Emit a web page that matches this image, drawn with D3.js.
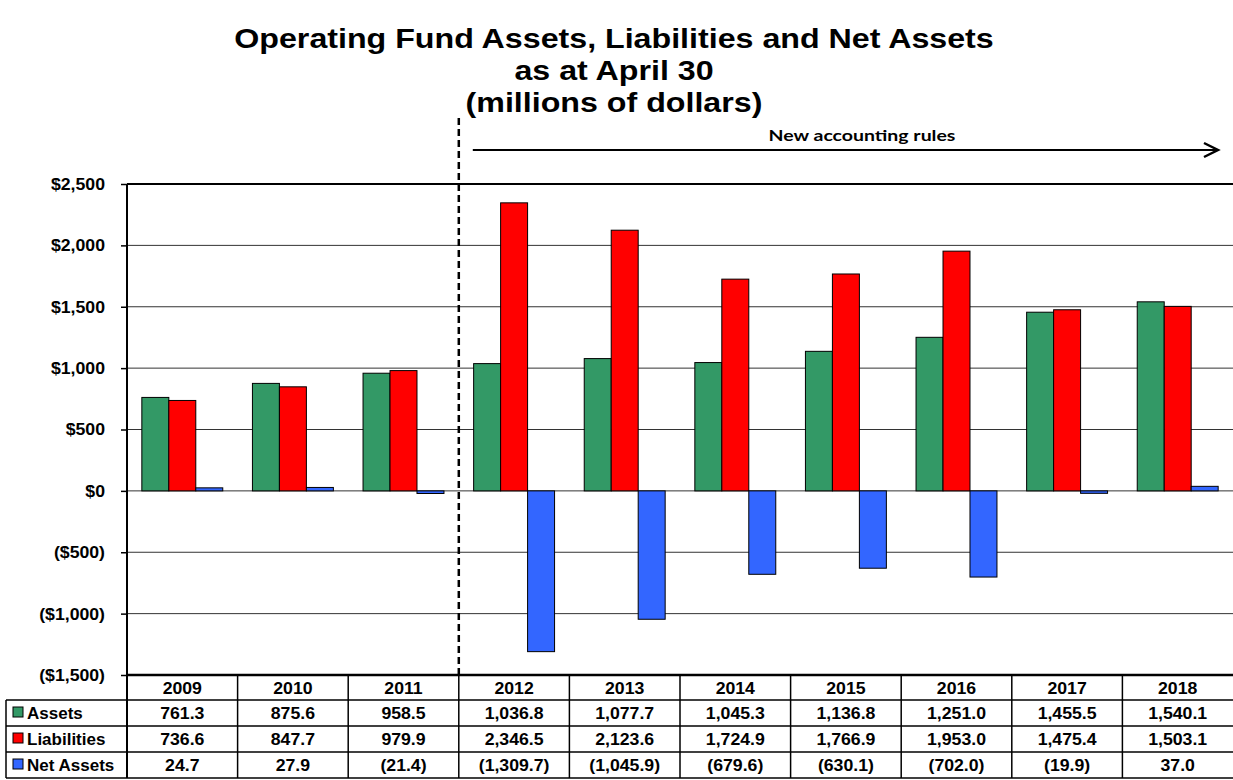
<!DOCTYPE html>
<html lang="en">
  <head>
    <meta charset="utf-8">
    <title>Operating Fund Assets, Liabilities and Net Assets</title>
    <script src="https://cdn.jsdelivr.net/npm/d3@7"></script>
    <style>
      body { margin: 0; background: #fff; }
      text { font-family: "Liberation Sans", Arial, sans-serif; font-weight: bold; fill: #000; }
      .bar { stroke: #000; stroke-width: 1; }
    </style>
  </head>
  <body>
    <script>
      var years = ["2009", "2010", "2011", "2012", "2013", "2014", "2015", "2016", "2017", "2018"];
      var assets = [761.3, 875.6, 958.5, 1036.8, 1077.7, 1045.3, 1136.8, 1251.0, 1455.5, 1540.1];
      var liabilities = [736.6, 847.7, 979.9, 2346.5, 2123.6, 1724.9, 1766.9, 1953.0, 1475.4, 1503.1];
      var netAssets = [24.7, 27.9, -21.4, -1309.7, -1045.9, -679.6, -630.1, -702.0, -19.9, 37.0];
      var seriesNames = ["Assets", "Liabilities", "Net Assets"];
      var seriesColors = ["#339966", "#FF0000", "#3366FF"];
      var yTicks = [-1500, -1000, -500, 0, 500, 1000, 1500, 2000, 2500];

      var w = 1233, h = 780;
      var plotLeft = 127, plotRight = 1233, plotTop = 184, plotBottom = 675;
      var rowY = [675, 700, 726, 752, 778];
      var sx = 1.04; // text in the original is a touch wider than Liberation Sans

      var series = [assets, liabilities, netAssets];

      var svg = d3.select("body").append("svg")
                  .attr("width", w)
                  .attr("height", h);

      var xScale = d3.scaleBand()
                     .domain(years)
                     .range([plotLeft, plotRight]);

      var inner = d3.scaleBand()
                    .domain(d3.range(3))
                    .range([0, xScale.bandwidth()])
                    .paddingOuter(0.55);

      var yScale = d3.scaleLinear()
                     .domain([-1500, 2500])
                     .range([plotBottom, plotTop]);

      var fmtTick = function (v) {
        var s = "$" + d3.format(",")(Math.abs(v));
        return v < 0 ? "(" + s + ")" : s;
      };
      var fmtVal = function (v) {
        var s = d3.format(",.1f")(Math.abs(v));
        return v < 0 ? "(" + s + ")" : s;
      };

      // place a (slightly stretched) text
      function label(g, x, y, str, size, anchor, scale) {
        return g.append("text")
                .attr("transform", "translate(" + x + "," + y + ") scale(" + (scale || sx) + ",1)")
                .attr("text-anchor", anchor || "middle")
                .style("font-size", size + "px")
                .text(str);
      }

      // title
      var titleLines = ["Operating Fund Assets, Liabilities and Net Assets", "as at April 30", "(millions of dollars)"];
      titleLines.forEach(function (t, i) {
        label(svg, 614, 48 + i * 32, t, 28, "middle", 1.15);
      });

      // gridlines
      svg.append("g")
         .selectAll("line")
         .data(yTicks.filter(function (t) { return t > -1500; }))
         .join("line")
         .attr("x1", plotLeft)
         .attr("x2", plotRight)
         .attr("y1", function (d) { return yScale(d); })
         .attr("y2", function (d) { return yScale(d); })
         .style("stroke", function (d) { return d === 2500 ? "#000" : "#333"; })
         .style("stroke-width", function (d) { return d === 2500 ? 2 : 1; });

      // y axis
      var yAxis = d3.axisLeft(yScale)
                    .tickValues(yTicks)
                    .tickSize(6)
                    .tickPadding(0)
                    .tickFormat(fmtTick);

      var gy = svg.append("g")
                  .attr("transform", "translate(" + plotLeft + ",0)")
                  .call(yAxis);
      gy.select(".domain").remove();
      gy.selectAll(".tick line").attr("stroke", "#000").attr("stroke-width", 1.5);
      gy.selectAll(".tick text")
        .attr("x", -22 / sx)
        .attr("transform", "scale(" + sx + ",1)")
        .style("font-family", "'Liberation Sans', Arial, sans-serif")
        .style("font-weight", "bold")
        .style("font-size", "17px");

      svg.append("line")
         .attr("x1", plotLeft).attr("x2", plotLeft)
         .attr("y1", plotTop).attr("y2", rowY[4])
         .attr("stroke", "#000").attr("stroke-width", 2);

      // bars
      series.forEach(function (vals, si) {
        svg.append("g").selectAll("rect")
           .data(vals)
           .join("rect")
           .attr("class", "bar")
           .attr("x", function (d, i) { return xScale(years[i]) + inner(si); })
           .attr("width", inner.bandwidth())
           .attr("y", function (d) { return yScale(Math.max(0, d)); })
           .attr("height", function (d) { return Math.abs(yScale(d) - yScale(0)); })
           .attr("fill", seriesColors[si]);
      });

      // dashed separator
      var sepX = xScale("2012");
      svg.append("line")
         .attr("x1", sepX).attr("x2", sepX)
         .attr("y1", 118).attr("y2", plotBottom)
         .attr("stroke", "#000")
         .attr("stroke-width", 2.5)
         .attr("stroke-dasharray", "7,4");

      // arrow: new accounting rules
      svg.append("line")
         .attr("x1", sepX + 14).attr("x2", 1218)
         .attr("y1", 150).attr("y2", 150)
         .attr("stroke", "#000").attr("stroke-width", 2);
      svg.append("path")
         .attr("d", "M1204,143 L1218,150 L1204,157")
         .attr("fill", "none").attr("stroke", "#000").attr("stroke-width", 2.5);
      label(svg, 862, 141, "New accounting rules", 15, "middle", 1.3)
         .style("font-family", "Lato, 'Open Sans', sans-serif");

      // data table
      var table = svg.append("g");
      table.append("line")
           .attr("x1", plotLeft).attr("x2", plotRight)
           .attr("y1", rowY[0]).attr("y2", rowY[0])
           .attr("stroke", "#000").attr("stroke-width", 2.5);
      for (var r = 1; r < rowY.length; r++) {
        table.append("line")
             .attr("x1", 6).attr("x2", plotRight)
             .attr("y1", rowY[r]).attr("y2", rowY[r])
             .attr("stroke", "#000").attr("stroke-width", 1.5);
      }
      table.append("line")
           .attr("x1", 6).attr("x2", 6)
           .attr("y1", rowY[1]).attr("y2", rowY[4])
           .attr("stroke", "#000").attr("stroke-width", 1.5);
      table.selectAll("line.col")
           .data(years.slice(1))
           .join("line")
           .attr("class", "col")
           .attr("x1", function (d) { return xScale(d); })
           .attr("x2", function (d) { return xScale(d); })
           .attr("y1", rowY[0]).attr("y2", rowY[4])
           .attr("stroke", "#000").attr("stroke-width", 1.5);

      years.forEach(function (yr) {
        label(table, xScale(yr) + xScale.bandwidth() / 2, (rowY[0] + rowY[1]) / 2 + 6, yr, 17);
      });

      series.forEach(function (vals, si) {
        var cy = (rowY[si + 1] + rowY[si + 2]) / 2 + 6;
        table.append("rect")
             .attr("x", 13).attr("y", cy - 12)
             .attr("width", 10).attr("height", 10)
             .attr("fill", seriesColors[si])
             .attr("stroke", "#000").attr("stroke-width", 1);
        label(table, 27, cy, seriesNames[si], 17, "start", 1.0);
        vals.forEach(function (v, i) {
          label(table, xScale(years[i]) + xScale.bandwidth() / 2, cy, fmtVal(v), 17);
        });
      });
    </script>
  </body>
</html>
